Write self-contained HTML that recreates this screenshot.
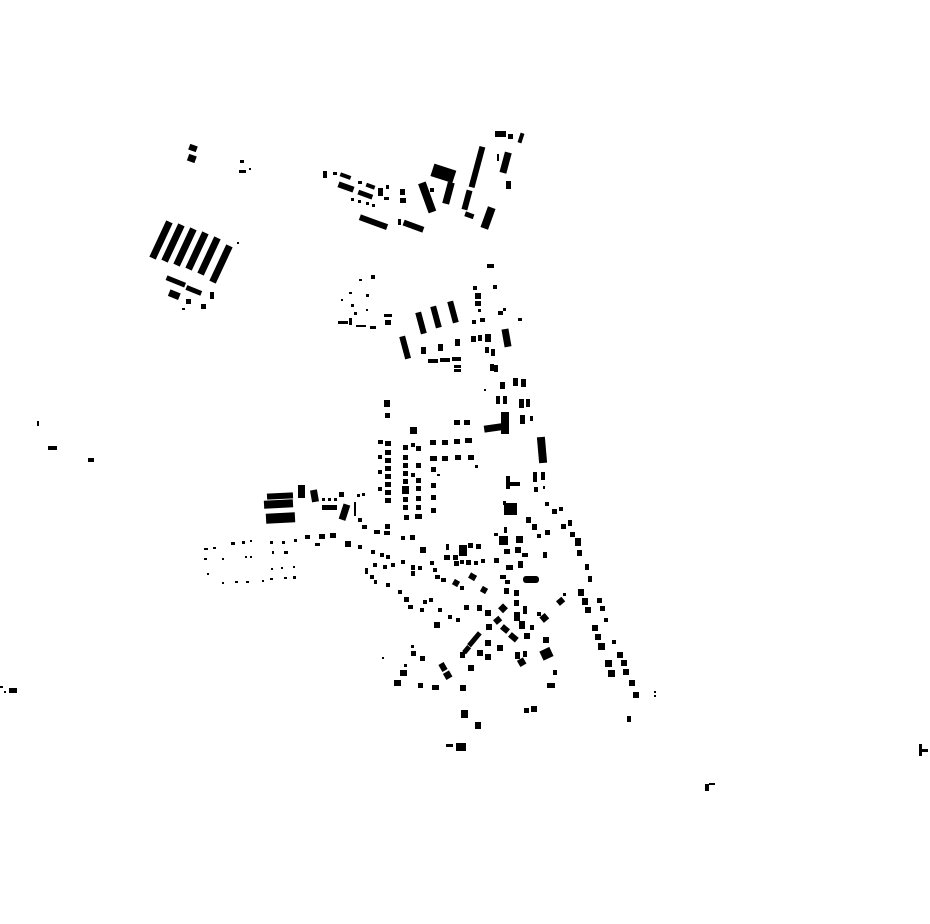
<!DOCTYPE html>
<html><head><meta charset="utf-8"><style>html,body{margin:0;padding:0;background:#fff}svg{display:block}</style></head><body>
<svg width="930" height="924" viewBox="0 0 930 924" xmlns="http://www.w3.org/2000/svg">
<rect width="930" height="924" fill="#fff"/>
<g fill="#000">
<!-- NW slanted bars -->
<rect x="157.5" y="220" width="7" height="40" transform="rotate(25 161 240)"/>
<rect x="169.5" y="223" width="7" height="40" transform="rotate(25 173 243)"/>
<rect x="181.5" y="227" width="7" height="40" transform="rotate(25 185 247)"/>
<rect x="193.5" y="231" width="7" height="40" transform="rotate(25 197 251)"/>
<rect x="205.5" y="236" width="7" height="40" transform="rotate(25 209 256)"/>
<rect x="217.5" y="244" width="7" height="40" transform="rotate(25 221 264)"/>
<rect x="166" y="279" width="20" height="5" transform="rotate(22 176 281)"/>
<rect x="186" y="288" width="16" height="5" transform="rotate(22 194 290)"/>
<rect x="169" y="291" width="11" height="7" transform="rotate(22 174 294)"/>
<rect x="186" y="299" width="5" height="5"/><rect x="201" y="304" width="5" height="5"/><rect x="210" y="292" width="4" height="7"/><rect x="182" y="308" width="3" height="2"/><rect x="237" y="242" width="2" height="2"/>
<rect x="189" y="145" width="8" height="6" transform="rotate(20 193 148)"/><rect x="188" y="155" width="8" height="7" transform="rotate(20 192 158)"/>
<rect x="240" y="160" width="4" height="3"/><rect x="239" y="170" width="7" height="3"/><rect x="249" y="168" width="2" height="2"/>
<!-- N cluster -->
<rect x="495" y="131" width="11" height="6"/><rect x="508" y="134" width="5" height="5"/><rect x="519" y="133" width="4" height="10" transform="rotate(18 521 138)"/>
<rect x="474" y="146" width="6" height="42" transform="rotate(15 477 167)"/>
<rect x="497" y="154" width="2" height="7"/>
<rect x="502" y="152" width="7" height="21" transform="rotate(15 505 163)"/>
<rect x="506" y="181" width="5" height="8"/>
<rect x="432" y="167" width="23" height="13" transform="rotate(18 444 173)"/>
<rect x="423" y="182" width="8" height="31" transform="rotate(-20 427 197)"/>
<rect x="445" y="182" width="7" height="22" transform="rotate(15 448 193)"/>
<rect x="464" y="190" width="6" height="20" transform="rotate(15 467 200)"/>
<rect x="484" y="207" width="8" height="22" transform="rotate(20 488 218)"/>
<rect x="465" y="213" width="9" height="5" transform="rotate(20 470 215)"/>
<rect x="430" y="188" width="4" height="4"/>
<rect x="323" y="171" width="4" height="7"/><rect x="333" y="172" width="4" height="3"/><rect x="340" y="174" width="11" height="4" transform="rotate(20 345 176)"/>
<rect x="338" y="184" width="16" height="6" transform="rotate(20 346 187)"/>
<rect x="358" y="181" width="4" height="3"/><rect x="366" y="184" width="9" height="4" transform="rotate(20 370 186)"/>
<rect x="358" y="192" width="15" height="5" transform="rotate(20 365 194)"/>
<rect x="378" y="188" width="5" height="8"/><rect x="386" y="185" width="3" height="4"/><rect x="400" y="189" width="5" height="6"/>
<rect x="384" y="197" width="5" height="3"/><rect x="400" y="198" width="6" height="5"/>
<rect x="351" y="198" width="3" height="3"/><rect x="358" y="200" width="3" height="3"/><rect x="366" y="202" width="3" height="3"/><rect x="372" y="204" width="3" height="3"/>
<rect x="359" y="219" width="29" height="6" transform="rotate(20 373 222)"/>
<rect x="398" y="219" width="3" height="6"/>
<rect x="403" y="223" width="21" height="6" transform="rotate(20 413 226)"/>
<!-- middle N -->
<rect x="487" y="264" width="7" height="4"/>
<rect x="473" y="286" width="4" height="4"/><rect x="493" y="285" width="4" height="4"/><rect x="475" y="293" width="6" height="6"/><rect x="475" y="301" width="6" height="5"/>
<rect x="418" y="312" width="6" height="22" transform="rotate(-15 421 323)"/>
<rect x="433" y="306" width="6" height="22" transform="rotate(-15 436 317)"/>
<rect x="450" y="301" width="6" height="22" transform="rotate(-15 453 312)"/>
<rect x="402" y="336" width="6" height="23" transform="rotate(-15 405 347)"/>
<rect x="421" y="347" width="5" height="7"/><rect x="438" y="344" width="5" height="7"/><rect x="455" y="339" width="5" height="7"/><rect x="471" y="336" width="5" height="6"/><rect x="478" y="335" width="4" height="6"/><rect x="485" y="334" width="6" height="8"/>
<rect x="503" y="329" width="7" height="18" transform="rotate(-10 506 338)"/>
<rect x="428" y="359" width="10" height="4"/><rect x="440" y="358" width="10" height="4"/><rect x="452" y="357" width="9" height="4"/>
<rect x="454" y="365" width="7" height="3"/><rect x="454" y="369" width="7" height="3"/>
<rect x="485" y="347" width="4" height="6"/><rect x="491" y="349" width="4" height="7"/><rect x="490" y="364" width="4" height="7"/><rect x="494" y="365" width="4" height="7"/>
<rect x="498" y="311" width="5" height="4"/><rect x="472" y="320" width="4" height="4"/><rect x="480" y="318" width="5" height="4"/><rect x="518" y="318" width="4" height="3"/><rect x="478" y="309" width="3" height="3"/><rect x="503" y="308" width="3" height="3"/>
<rect x="371" y="275" width="4" height="4"/><rect x="359" y="279" width="3" height="2"/><rect x="349" y="292" width="3" height="2"/><rect x="366" y="294" width="3" height="3"/><rect x="341" y="299" width="2" height="2"/><rect x="351" y="304" width="3" height="3"/><rect x="354" y="312" width="3" height="3"/><rect x="366" y="309" width="2" height="2"/><rect x="384" y="314" width="8" height="3"/><rect x="338" y="321" width="10" height="3"/><rect x="349" y="318" width="3" height="7"/><rect x="356" y="325" width="10" height="2"/><rect x="370" y="326" width="6" height="3"/><rect x="385" y="320" width="6" height="5"/>
<!-- central column -->
<rect x="500" y="382" width="5" height="7"/><rect x="513" y="378" width="5" height="8"/><rect x="521" y="379" width="5" height="8"/><rect x="484" y="389" width="2" height="2"/>
<rect x="496" y="396" width="4" height="8"/><rect x="503" y="396" width="4" height="8"/><rect x="519" y="399" width="5" height="9"/><rect x="526" y="399" width="4" height="8"/>
<rect x="384" y="400" width="6" height="7"/><rect x="385" y="413" width="5" height="5"/>
<rect x="520" y="415" width="5" height="9"/><rect x="530" y="416" width="3" height="5"/>
<rect x="484" y="424" width="24" height="7" transform="rotate(-8 496 427)"/><rect x="501" y="412" width="8" height="22"/>
<rect x="454" y="420" width="6" height="5"/><rect x="464" y="420" width="6" height="5"/>
<rect x="410" y="427" width="7" height="7"/>
<rect x="538" y="437" width="8" height="26" transform="rotate(-5 542 450)"/>
<rect x="378" y="440" width="5" height="4"/><rect x="385" y="441" width="6" height="5"/>
<rect x="385" y="450" width="6" height="5"/><rect x="385" y="458" width="6" height="5"/><rect x="385" y="466" width="6" height="5"/><rect x="385" y="474" width="6" height="5"/><rect x="385" y="482" width="6" height="5"/><rect x="385" y="490" width="6" height="5"/><rect x="385" y="498" width="6" height="5"/><rect x="378" y="455" width="4" height="4"/><rect x="378" y="470" width="4" height="4"/><rect x="378" y="487" width="4" height="4"/>
<rect x="403" y="445" width="5" height="5"/><rect x="411" y="443" width="4" height="4"/><rect x="416" y="446" width="5" height="5"/>
<rect x="430" y="440" width="6" height="5"/><rect x="442" y="440" width="6" height="5"/><rect x="454" y="439" width="6" height="5"/><rect x="465" y="438" width="7" height="5"/>
<rect x="430" y="456" width="7" height="5"/><rect x="442" y="456" width="6" height="5"/><rect x="455" y="455" width="6" height="5"/><rect x="468" y="455" width="6" height="5"/><rect x="475" y="465" width="3" height="3"/>
<rect x="403" y="455" width="5" height="5"/><rect x="403" y="463" width="5" height="5"/><rect x="403" y="471" width="5" height="5"/><rect x="403" y="479" width="5" height="5"/><rect x="402" y="486" width="7" height="8"/><rect x="403" y="497" width="5" height="5"/><rect x="403" y="505" width="5" height="5"/><rect x="404" y="515" width="5" height="5"/>
<rect x="416" y="463" width="5" height="5"/><rect x="411" y="473" width="4" height="4"/><rect x="416" y="478" width="5" height="5"/><rect x="416" y="486" width="5" height="5"/><rect x="416" y="496" width="5" height="5"/><rect x="416" y="505" width="5" height="5"/><rect x="415" y="514" width="7" height="5"/>
<rect x="431" y="467" width="5" height="5"/><rect x="431" y="483" width="5" height="5"/><rect x="431" y="495" width="5" height="5"/><rect x="431" y="508" width="5" height="5"/><rect x="437" y="474" width="3" height="2"/>
<rect x="506" y="476" width="4" height="13"/><rect x="509" y="482" width="11" height="4"/>
<rect x="533" y="472" width="4" height="10"/><rect x="541" y="472" width="4" height="8"/><rect x="534" y="487" width="4" height="5"/><rect x="543" y="486" width="2" height="3"/>
<rect x="504" y="503" width="13" height="12"/><rect x="503" y="501" width="3" height="4"/>
<!-- west -->
<rect x="267" y="493" width="26" height="6" transform="rotate(-3 280 496)"/>
<rect x="264" y="500" width="29" height="8" transform="rotate(-3 278 504)"/>
<rect x="266" y="513" width="29" height="10" transform="rotate(-3 280 518)"/>
<rect x="298" y="485" width="7" height="13"/><rect x="311" y="490" width="7" height="12" transform="rotate(-10 314 496)"/>
<rect x="322" y="505" width="15" height="5"/><rect x="322" y="498" width="3" height="3"/><rect x="328" y="498" width="3" height="3"/><rect x="334" y="498" width="3" height="3"/><rect x="339" y="492" width="5" height="5"/>
<rect x="341" y="504" width="7" height="16" transform="rotate(18 344 512)"/>
<rect x="354" y="502" width="2" height="14"/><rect x="357" y="494" width="3" height="3"/><rect x="362" y="493" width="3" height="3"/>
<rect x="358" y="518" width="4" height="4"/><rect x="362" y="525" width="5" height="4"/><rect x="374" y="530" width="6" height="4"/><rect x="385" y="524" width="5" height="5"/><rect x="384" y="531" width="6" height="4"/><rect x="401" y="536" width="4" height="4"/><rect x="410" y="535" width="5" height="5"/><rect x="420" y="547" width="6" height="6"/>
<rect x="305" y="535" width="5" height="4"/><rect x="319" y="534" width="6" height="5"/><rect x="330" y="533" width="6" height="5"/><rect x="315" y="543" width="5" height="3"/>
<rect x="345" y="541" width="6" height="6"/><rect x="358" y="545" width="4" height="4"/><rect x="371" y="550" width="4" height="4"/><rect x="380" y="553" width="4" height="4"/><rect x="386" y="555" width="4" height="4"/><rect x="373" y="563" width="4" height="4"/><rect x="383" y="565" width="4" height="4"/><rect x="391" y="563" width="4" height="4"/>
<rect x="401" y="560" width="4" height="4"/><rect x="411" y="565" width="4" height="5"/><rect x="411" y="571" width="4" height="5"/><rect x="418" y="566" width="4" height="4"/><rect x="430" y="561" width="4" height="4"/><rect x="433" y="568" width="4" height="4"/><rect x="435" y="575" width="5" height="4"/><rect x="441" y="578" width="5" height="4"/>
<rect x="365" y="568" width="3" height="6"/><rect x="370" y="575" width="4" height="4"/><rect x="374" y="580" width="3" height="4"/><rect x="386" y="583" width="4" height="4"/>
<rect x="398" y="590" width="4" height="4"/><rect x="404" y="597" width="5" height="5"/><rect x="408" y="605" width="5" height="4"/>
<rect x="423" y="600" width="4" height="4"/><rect x="429" y="598" width="4" height="4"/><rect x="420" y="608" width="4" height="4"/><rect x="438" y="608" width="4" height="4"/><rect x="448" y="615" width="4" height="4"/><rect x="456" y="618" width="4" height="4"/><rect x="434" y="622" width="6" height="6"/>
<!-- core -->
<rect x="446" y="544" width="3" height="6"/><rect x="444" y="555" width="6" height="5"/><rect x="453" y="555" width="5" height="5"/><rect x="459" y="545" width="8" height="11"/><rect x="468" y="543" width="5" height="5"/><rect x="476" y="544" width="5" height="5"/>
<rect x="454" y="561" width="5" height="5"/><rect x="460" y="560" width="4" height="4"/><rect x="466" y="560" width="5" height="5"/><rect x="474" y="561" width="4" height="4"/><rect x="481" y="559" width="4" height="4"/><rect x="494" y="558" width="5" height="5"/>
<rect x="469" y="574" width="7" height="6" transform="rotate(30 473 577)"/><rect x="453" y="580" width="6" height="6" transform="rotate(30 456 583)"/><rect x="460" y="586" width="4" height="4"/><rect x="481" y="587" width="6" height="6" transform="rotate(30 484 590)"/>
<rect x="499" y="536" width="9" height="9"/><rect x="504" y="527" width="3" height="6"/><rect x="516" y="536" width="7" height="7"/><rect x="494" y="533" width="4" height="3"/>
<rect x="504" y="549" width="6" height="5"/><rect x="515" y="547" width="6" height="6"/><rect x="522" y="553" width="6" height="4"/><rect x="506" y="565" width="7" height="5"/><rect x="518" y="561" width="5" height="7"/>
<rect x="500" y="575" width="6" height="4"/><rect x="505" y="580" width="5" height="4"/><rect x="504" y="588" width="5" height="6"/>
<rect x="523" y="576" width="16" height="7" rx="3"/>
<rect x="514" y="590" width="5" height="6"/><rect x="514" y="600" width="5" height="6"/>
<rect x="526" y="517" width="5" height="6"/><rect x="532" y="524" width="5" height="6"/><rect x="545" y="530" width="5" height="5"/><rect x="537" y="534" width="4" height="4"/><rect x="543" y="552" width="4" height="6"/>
<rect x="545" y="502" width="4" height="4"/><rect x="552" y="509" width="5" height="5"/><rect x="559" y="507" width="4" height="4"/>
<rect x="561" y="524" width="5" height="5"/><rect x="568" y="520" width="4" height="6"/><rect x="570" y="532" width="5" height="5"/><rect x="575" y="538" width="6" height="8"/><rect x="577" y="550" width="5" height="6"/>
<rect x="585" y="564" width="4" height="6"/><rect x="588" y="576" width="4" height="6"/>
<rect x="578" y="589" width="6" height="7"/><rect x="582" y="598" width="6" height="7"/><rect x="585" y="607" width="6" height="6"/>
<rect x="597" y="598" width="5" height="5"/><rect x="600" y="606" width="5" height="5"/><rect x="604" y="618" width="4" height="4"/>
<rect x="592" y="625" width="6" height="6"/><rect x="595" y="634" width="6" height="6"/><rect x="598" y="643" width="7" height="7"/>
<rect x="605" y="660" width="7" height="7"/><rect x="608" y="670" width="7" height="7"/><rect x="612" y="640" width="4" height="4"/>
<rect x="617" y="652" width="6" height="6"/><rect x="621" y="660" width="6" height="6"/><rect x="623" y="669" width="6" height="6"/><rect x="629" y="680" width="6" height="6"/><rect x="633" y="692" width="6" height="6"/><rect x="627" y="716" width="4" height="6"/><rect x="654" y="691" width="2" height="2"/><rect x="654" y="695" width="2" height="2"/>
<rect x="464" y="605" width="5" height="5"/><rect x="477" y="605" width="5" height="6"/><rect x="485" y="610" width="6" height="6"/><rect x="499" y="605" width="7" height="7" transform="rotate(45 503 609)"/>
<rect x="494" y="617" width="7" height="6" transform="rotate(-40 498 620)"/><rect x="486" y="624" width="6" height="6"/><rect x="501" y="626" width="8" height="6" transform="rotate(40 505 629)"/><rect x="509" y="634" width="9" height="6" transform="rotate(40 513 637)"/>
<rect x="514" y="612" width="6" height="9"/><rect x="519" y="621" width="6" height="8"/><rect x="523" y="606" width="4" height="8"/><rect x="524" y="633" width="6" height="6"/><rect x="530" y="625" width="4" height="5"/>
<rect x="541" y="614" width="7" height="7" transform="rotate(-40 545 618)"/><rect x="537" y="612" width="4" height="4"/><rect x="557" y="598" width="7" height="6" transform="rotate(-40 561 601)"/><rect x="563" y="593" width="3" height="3"/>
<rect x="474" y="632" width="5" height="9" transform="rotate(40 477 637)"/><rect x="469" y="639" width="5" height="8" transform="rotate(40 472 643)"/><rect x="464" y="646" width="5" height="8" transform="rotate(40 467 650)"/><rect x="460" y="652" width="5" height="6"/>
<rect x="485" y="640" width="6" height="6"/><rect x="497" y="645" width="6" height="6"/><rect x="477" y="650" width="6" height="6"/><rect x="485" y="654" width="6" height="6"/>
<rect x="515" y="652" width="5" height="7"/><rect x="523" y="651" width="4" height="6"/><rect x="518" y="659" width="7" height="7" transform="rotate(-30 521 662)"/>
<rect x="541" y="649" width="11" height="10" transform="rotate(-25 546 654)"/><rect x="543" y="637" width="6" height="6"/><rect x="553" y="670" width="4" height="5"/><rect x="547" y="683" width="8" height="5"/>
<rect x="411" y="645" width="3" height="3"/><rect x="411" y="651" width="5" height="5"/><rect x="420" y="656" width="5" height="5"/><rect x="404" y="664" width="3" height="3"/><rect x="400" y="670" width="7" height="6"/><rect x="394" y="680" width="7" height="6"/><rect x="418" y="683" width="5" height="5"/><rect x="432" y="685" width="7" height="5"/>
<rect x="440" y="663" width="6" height="8" transform="rotate(-30 443 667)"/><rect x="444" y="672" width="7" height="7" transform="rotate(-30 447 675)"/><rect x="468" y="665" width="6" height="6"/><rect x="460" y="685" width="6" height="6"/>
<rect x="461" y="710" width="7" height="8"/><rect x="475" y="722" width="6" height="7"/><rect x="456" y="743" width="10" height="8"/><rect x="446" y="744" width="7" height="3"/>
<rect x="524" y="708" width="5" height="5"/><rect x="531" y="706" width="6" height="6"/><rect x="382" y="657" width="2" height="2"/>
<!-- west dots -->
<rect x="204" y="548" width="4" height="2"/><rect x="213" y="547" width="3" height="2"/><rect x="231" y="542" width="4" height="3"/><rect x="242" y="541" width="3" height="3"/><rect x="250" y="540" width="2" height="2"/><rect x="270" y="541" width="3" height="3"/><rect x="282" y="541" width="3" height="3"/><rect x="294" y="539" width="3" height="3"/>
<rect x="204" y="558" width="3" height="2"/><rect x="222" y="558" width="2" height="2"/><rect x="245" y="556" width="2" height="2"/><rect x="250" y="556" width="2" height="2"/><rect x="272" y="551" width="2" height="3"/><rect x="284" y="551" width="4" height="3"/>
<rect x="207" y="573" width="2" height="2"/><rect x="222" y="582" width="2" height="2"/><rect x="235" y="581" width="3" height="2"/><rect x="246" y="581" width="3" height="2"/><rect x="262" y="580" width="2" height="2"/><rect x="270" y="578" width="3" height="2"/><rect x="271" y="568" width="2" height="2"/><rect x="281" y="567" width="2" height="2"/><rect x="293" y="566" width="2" height="2"/><rect x="284" y="577" width="3" height="2"/><rect x="293" y="576" width="3" height="3"/>
<!-- outliers -->
<rect x="37" y="421" width="2" height="5"/><rect x="48" y="446" width="9" height="4"/><rect x="88" y="458" width="6" height="4"/>
<rect x="9" y="688" width="8" height="5"/><rect x="0" y="686" width="3" height="2"/><rect x="4" y="691" width="2" height="2"/>
<rect x="919" y="744" width="3" height="12"/><rect x="922" y="749" width="6" height="3"/>
<rect x="705" y="784" width="4" height="7"/><rect x="709" y="783" width="6" height="2"/>
</g>
</svg>
</body></html>
